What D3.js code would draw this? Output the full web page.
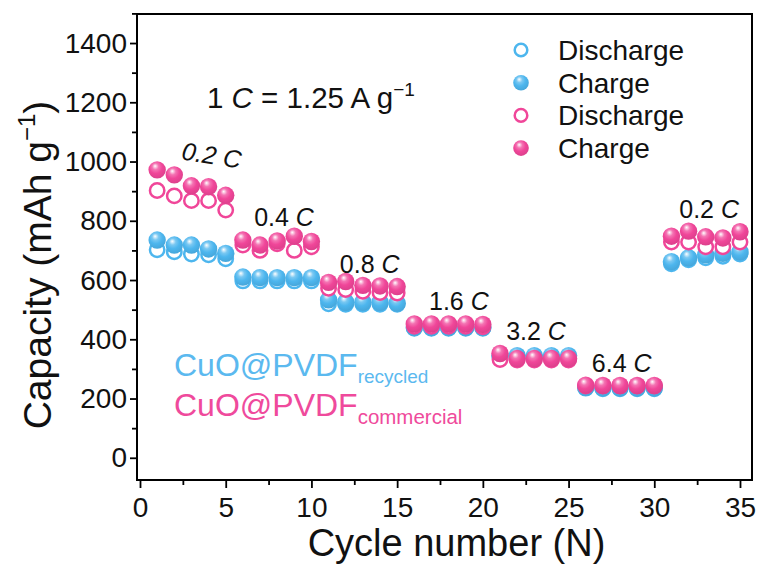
<!DOCTYPE html>
<html><head><meta charset="utf-8">
<script src="https://cdn.jsdelivr.net/npm/d3@7"></script>
<style>body{margin:0;background:#fff}svg{display:block;font-family:"Liberation Sans",Arial,sans-serif}</style>
</head><body><svg id="c" width="761" height="575"></svg>
<script>
const cycles = d3.range(1, 36);
const recycledCharge = [735,718,718,705,690, 610,608,608,608,608, 533,525,525,525,522, 440,440,440,440,440, 345,345,345,345,345, 238,236,236,236,236, 662,675,685,690,695];
const recycledDischarge = [702,695,688,685,672, 597,597,597,597,597, 520,518,518,518,518, 437,437,437,437,437, 340,340,340,340,340, 235,233,233,233,233, 655,668,675,680,688];
const commercialCharge = [972,955,918,915,886, 735,718,732,748,730, 592,595,582,580,578, 452,452,452,452,450, 352,335,335,335,335, 245,244,244,244,244, 748,765,746,742,763];
const commercialDischarge = [902,884,868,868,836, 718,700,722,700,712, 572,568,562,558,556, 444,444,444,444,442, 332,330,330,330,330, 242,242,242,242,242, 728,728,712,712,728];
const xTicks = [0,5,10,15,20,25,30,35];
const yTicks = [0,200,400,600,800,1000,1200,1400];
const rateLabels = [
  {t:"0.2", cx:4.1, v:992, rot:9},
  {t:"0.4", cx:8.4, v:783, rot:0},
  {t:"0.8", cx:13.4, v:624, rot:0},
  {t:"1.6", cx:18.6, v:499, rot:0},
  {t:"3.2", cx:23.1, v:398, rot:0},
  {t:"6.4", cx:28.1, v:290, rot:0},
  {t:"0.2", cx:33.2, v:810, rot:0}
];
const legendItems = [
  {name:"Discharge", color:"#4db6ee", open:true},
  {name:"Charge", color:"#4db6ee", open:false},
  {name:"Discharge", color:"#f04699", open:true},
  {name:"Charge", color:"#f04699", open:false}
];
const BLUE = "#4db6ee", PINK = "#f04699";

const svg = d3.select("#c");
const L = 137, R = 752, T = 14, B = 480;
const x = d3.scaleLinear().domain([-0.175, 35.7]).range([L, R]);
const y = d3.scaleLinear().domain([-75, 1498]).range([B, T]);

const defs = svg.append("defs");
function grad(id, c) {
  const g = defs.append("radialGradient").attr("id", id).attr("cx","45%").attr("cy","38%").attr("r","62%").attr("fx","38%").attr("fy","28%");
  g.append("stop").attr("offset","0%").attr("stop-color","#ffffff");
  g.append("stop").attr("offset","30%").attr("stop-color",d3.interpolateRgb("#ffffff", c)(0.75));
  g.append("stop").attr("offset","60%").attr("stop-color",c);
  g.append("stop").attr("offset","100%").attr("stop-color",d3.color(c).darker(0.25));
}
grad("gb", BLUE); grad("gp", PINK);

// axes
const xAxis = d3.axisBottom(x).tickValues(xTicks).tickSize(8).tickPadding(9).tickFormat(d3.format("d"));
const gx = svg.append("g").attr("transform", `translate(0,${B})`).call(xAxis);
const xMinor = svg.append("g").attr("transform", `translate(0,${B})`).call(d3.axisBottom(x).tickValues([2.5,7.5,12.5,17.5,22.5,27.5,32.5]).tickSize(5).tickFormat(""));
const yAxis = d3.axisLeft(y).tickValues(yTicks).tickSize(7).tickPadding(3).tickFormat(d3.format("d"));
const gy = svg.append("g").attr("transform", `translate(${L},0)`).call(yAxis);
const yMinor = svg.append("g").attr("transform", `translate(${L},0)`).call(d3.axisLeft(y).tickValues([100,300,500,700,900,1100,1300,1500]).tickSize(5).tickFormat(""));
[gx, gy, xMinor, yMinor].forEach(g => { g.select(".domain").remove(); g.selectAll("line").attr("stroke","#000").attr("stroke-width",1.8); });
gx.selectAll("text").attr("font-size",28).attr("fill","#111");
gy.selectAll("text").attr("font-size",28).attr("fill","#111");

svg.append("rect").attr("x",L).attr("y",T).attr("width",R-L).attr("height",B-T).attr("fill","none").attr("stroke","#000").attr("stroke-width",2);

// axis titles
svg.append("text").attr("x",(L+R)/2 + 12).attr("y",556).attr("text-anchor","middle").attr("font-size",38).attr("fill","#111").text("Cycle number (N)");
const yt = svg.append("text").attr("transform","translate(51,265) rotate(-90)").attr("text-anchor","middle").attr("font-size",39).attr("fill","#111");
yt.append("tspan").text("Capacity (mAh g");
yt.append("tspan").attr("font-size",24).attr("dy",-16).text("\u22121");
yt.append("tspan").attr("dy",16).text(")");

// data
function openSeries(vals, color) {
  svg.append("g").selectAll("circle").data(vals).join("circle")
    .attr("cx",(d,i)=>x(cycles[i])).attr("cy",d=>y(d)).attr("r",7.2)
    .attr("fill","#fff").attr("stroke",color).attr("stroke-width",2.5);
}
function filledSeries(vals, gid) {
  svg.append("g").selectAll("circle").data(vals).join("circle")
    .attr("cx",(d,i)=>x(cycles[i])).attr("cy",d=>y(d)).attr("r",8.7)
    .attr("fill",`url(#${gid})`);
}
openSeries(recycledDischarge, BLUE);
filledSeries(recycledCharge, "gb");
openSeries(commercialDischarge, PINK);
filledSeries(commercialCharge, "gp");

// rate labels
rateLabels.forEach(r => {
  const t = svg.append("text").attr("text-anchor","middle").attr("font-size",25).attr("fill","#111")
    .attr("transform",`translate(${x(r.cx)},${y(r.v)}) rotate(${r.rot})`);
  t.append("tspan").attr("font-style", r.rot ? "italic" : "normal").text(r.t + " ");
  t.append("tspan").attr("font-style","italic").text("C");
});

// 1 C = 1.25 A g-1
const ct = svg.append("text").attr("x",207).attr("y",108).attr("font-size",29.5).attr("fill","#111");
ct.append("tspan").text("1 ");
ct.append("tspan").attr("font-style","italic").text("C");
ct.append("tspan").text(" = 1.25 A g");
ct.append("tspan").attr("font-size",19).attr("dy",-12).text("\u22121");

// legend
const lg = svg.append("g");
legendItems.forEach((d,i) => {
  const yy = 50 + i*32.7;
  if (d.open) {
    lg.append("circle").attr("cx",521).attr("cy",yy).attr("r",6.3).attr("fill","#fff").attr("stroke",d.color).attr("stroke-width",2.5);
  } else {
    lg.append("circle").attr("cx",521).attr("cy",yy).attr("r",7.8).attr("fill",`url(#${d.color===BLUE?"gb":"gp"})`);
  }
  lg.append("text").attr("x",558).attr("y",yy+10).attr("font-size",28).attr("fill","#111").text(d.name);
});

// sample labels
const s1 = svg.append("text").attr("x",174).attr("y",376).attr("font-size",32).attr("fill","#5bb9ef");
s1.append("tspan").text("CuO@PVDF");
s1.append("tspan").attr("font-size",19).attr("dy",7).text("recycled");
const s2 = svg.append("text").attr("x",174).attr("y",416).attr("font-size",32).attr("fill","#ef4a9c");
s2.append("tspan").text("CuO@PVDF");
s2.append("tspan").attr("font-size",20.5).attr("dy",8).text("commercial");
</script></body></html>
